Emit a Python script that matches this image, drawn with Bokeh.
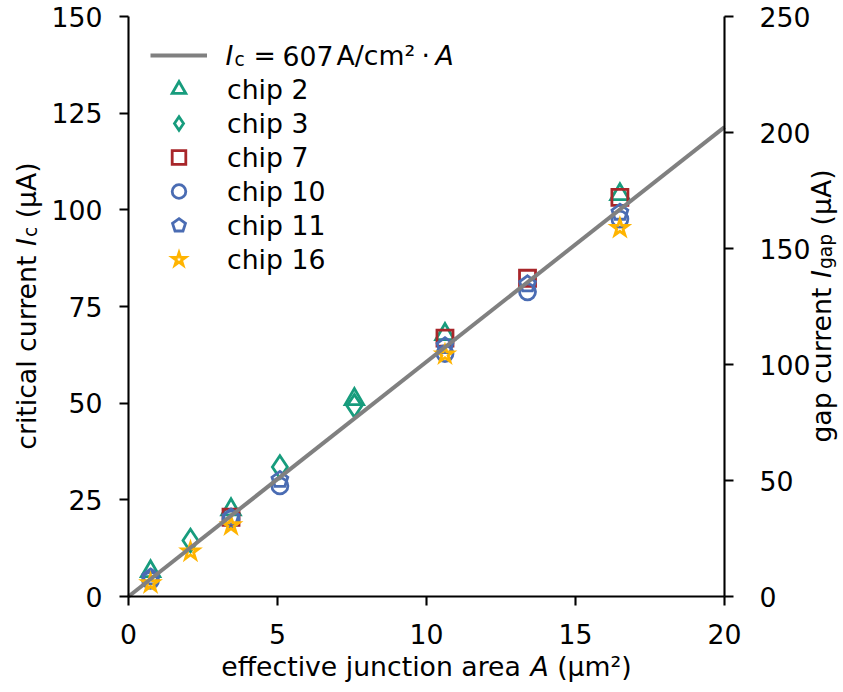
import math
from bokeh.plotting import figure
from bokeh.models import (Range1d, LinearAxis, FixedTicker, Legend, LegendItem,
                          Label, ColumnDataSource)
from bokeh.embed import file_html
from bokeh.resources import INLINE

# ---------------- data ----------------
X_TICKS = [0, 5, 10, 15, 20]
Y_TICKS = [0, 25, 50, 75, 100, 125, 150]
GAP_TICKS = [0, 50, 100, 150, 200, 250]
X_RANGE = (0, 20)
Y_RANGE = (0, 150)
GAP_RANGE = (0, 250)

FIT_SLOPE = 607            # A/cm^2
FIT_A = [0, 20]            # µm^2
FIT_IC = [FIT_SLOPE * a * 1e-2 for a in FIT_A]   # µA  (A/cm^2 * µm^2 = 1e-2 µA)

CHIP2_A = [0.74, 3.44, 7.58, 10.62, 16.49]
CHIP2_IC = [6.5, 22.5, 51.0, 67.8, 104.0]
CHIP3_A = [2.08, 5.08, 7.58]
CHIP3_IC = [14.5, 33.5, 49.3]
CHIP7_A = [3.44, 10.62, 13.39, 16.49]
CHIP7_IC = [20.5, 66.8, 82.3, 103.2]
CHIP10_A = [0.74, 3.44, 5.08, 10.62, 13.39, 16.49]
CHIP10_IC = [4.2, 20.0, 28.6, 62.8, 78.8, 97.6]
CHIP11_A = [0.74, 3.44, 5.08, 10.62, 13.39, 16.49]
CHIP11_IC = [5.0, 20.5, 30.2, 64.8, 80.8, 99.3]
CHIP16_A = [0.74, 2.08, 3.44, 10.62, 16.49]
CHIP16_IC = [3.4, 11.6, 18.4, 62.6, 95.3]

CHIP_LABELS = ["chip 2", "chip 3", "chip 7", "chip 10", "chip 11", "chip 16"]

# ---------------- style / layout ----------------
FONT = "DejaVu Sans"
S = 26.7
TEAL = "#179C7D"
RED = "#A8262A"
BLUE = "#4A6CB3"
YELLOW = "#FFB400"
GRAY = "#808080"
MLW = 2.8

W, H = 843, 692
# plotting area (pixels inside the canvas)
AX_L, AX_R, AX_T, AX_B = 128, 724, 16, 596
PPX = (AX_R - AX_L) / (X_RANGE[1] - X_RANGE[0])
PPY = (AX_B - AX_T) / (Y_RANGE[1] - Y_RANGE[0])

xr = Range1d(X_RANGE[0] - AX_L / PPX, X_RANGE[1] + (W - AX_R) / PPX)
yr = Range1d(Y_RANGE[0] - (H - AX_B) / PPY, Y_RANGE[1] + AX_T / PPY)
GF = (GAP_RANGE[1] - GAP_RANGE[0]) / (Y_RANGE[1] - Y_RANGE[0])

p = figure(width=W, height=H, output_backend="svg", toolbar_location=None,
           x_range=xr, y_range=yr, x_axis_type=None, y_axis_type=None,
           min_border=0)
p.outline_line_color = None
p.background_fill_color = "white"
p.border_fill_color = "white"
p.extra_y_ranges = {"gap": Range1d(yr.start * GF, yr.end * GF)}

xaxis = LinearAxis(ticker=FixedTicker(ticks=X_TICKS), fixed_location=Y_RANGE[0],
                   bounds=X_RANGE)
yaxis = LinearAxis(ticker=FixedTicker(ticks=Y_TICKS), fixed_location=X_RANGE[0],
                   bounds=Y_RANGE)
gaxis = LinearAxis(ticker=FixedTicker(ticks=GAP_TICKS), y_range_name="gap",
                   fixed_location=X_RANGE[1], bounds=GAP_RANGE)
p.add_layout(xaxis, "below")
p.add_layout(yaxis, "left")
p.add_layout(gaxis, "right")

for ax in (xaxis, yaxis, gaxis):
    ax.axis_line_width = 2.1
    ax.axis_line_color = "black"
    ax.major_tick_line_width = 2.1
    ax.major_tick_line_color = "black"
    ax.major_tick_out = 9
    ax.major_tick_in = 0
    ax.minor_tick_out = 0
    ax.minor_tick_in = 0
    ax.major_label_standoff = 17
    ax.major_label_text_font = FONT
    ax.major_label_text_font_size = f"{S}px"
    ax.major_label_text_color = "black"
xaxis.major_label_standoff = 18
gaxis.major_label_standoff = 26

def sc(xs, ys, marker, size, color):
    src = ColumnDataSource(dict(A=xs, Ic=ys))
    return p.scatter("A", "Ic", source=src, marker=marker, size=size,
                     fill_color=None, line_color=color, line_width=MLW,
                     line_join="miter")

r2 = sc(CHIP2_A, CHIP2_IC, "triangle", 18.5, TEAL)
r3 = sc(CHIP3_A, CHIP3_IC, "diamond", 22.5, TEAL)
r7 = sc(CHIP7_A, CHIP7_IC, "square", 16, RED)
r10 = sc(CHIP10_A, CHIP10_IC, "circle", 16, BLUE)
src11 = ColumnDataSource(dict(A=CHIP11_A, Ic=CHIP11_IC))
try:
    r11 = p.ngon("A", "Ic", source=src11, radius=8.3, radius_units="screen", n=5,
                 fill_color=None, line_color=BLUE, line_width=MLW, line_join="miter")
except Exception:
    r11 = p.scatter("A", "Ic", source=src11, marker="hex", size=16,
                    fill_color=None, line_color=BLUE, line_width=MLW)
r16 = sc(CHIP16_A, CHIP16_IC, "star", 17, YELLOW)

fit_src = ColumnDataSource(dict(A=FIT_A, Ic=FIT_IC))
rl = p.line("A", "Ic", source=fit_src, line_color=GRAY, line_width=4)

ROW = 34
N_ROWS = 1 + len(CHIP_LABELS)
LEG_X, LEG_TOP = 150, 38
legend = Legend(items=[LegendItem(label=" ", renderers=[rl])] +
                [LegendItem(label=lab, renderers=[r]) for lab, r in
                 zip(CHIP_LABELS, [r2, r3, r7, r10, r11, r16])],
                location=(LEG_X, H - LEG_TOP - ROW * N_ROWS),
                margin=0, padding=0, spacing=0,
                glyph_width=57, glyph_height=ROW, label_height=ROW,
                label_standoff=20, border_line_color=None,
                background_fill_alpha=0,
                label_text_font=FONT, label_text_font_size=f"{S}px",
                label_text_color="black")
p.add_layout(legend)

# ---------------- rich-text labels ----------------
EM = {" ": .318, "(": .390, ")": .390, "µ": .635, "A": .684, "I": .295,
      "a": .613, "c": .550, "e": .615, "f": .352, "g": .635, "h": .634,
      "i": .278, "j": .278, "l": .278, "m": .974, "n": .634, "o": .612,
      "p": .635, "r": .411, "t": .392, "u": .634, "v": .592, "²": .401}

def tw(s, size=S):
    return sum(EM[ch] for ch in s) * size

def piece(text, dx, dy, size=S, italic=False, angle=0.0):
    # dx, dy in pixels from the (0, 0) data corner; dy positive upward
    p.add_layout(Label(x=X_RANGE[0], y=Y_RANGE[0], x_offset=dx, y_offset=dy,
                       text=text, angle=angle, text_font=FONT,
                       text_font_size=f"{size:.1f}px",
                       text_font_style="italic" if italic else "normal",
                       text_color="black", text_align="left",
                       text_baseline="alphabetic"))

SUB = 0.7 * S
SP = tw(" ")
FW = AX_R - AX_L
FH = AX_B - AX_T

# x axis label
xl = ["effective junction area", "A", "(µm²)"]
total = tw(xl[0]) + SP + tw(xl[1]) + SP + tw(xl[2])
x0 = FW / 2 - total / 2
yb = -(666 - AX_B)
piece(xl[0], x0, yb)
piece(xl[1], x0 + tw(xl[0]) + SP, yb, italic=True)
piece(xl[2], x0 + tw(xl[0]) + SP + tw(xl[1]) + SP, yb)

def vlabel(pre, sub, bx):
    post = "(µA)"
    total = tw(pre) + SP + tw("I") + tw(sub, SUB) + SP + tw(post)
    a = FH / 2 - total / 2
    ang = math.pi / 2
    piece(pre, bx, a, angle=ang)
    a += tw(pre) + SP
    piece("I", bx, a, italic=True, angle=ang)
    a += tw("I") + 1
    piece(sub, bx + 4, a, size=SUB, angle=ang)
    a += tw(sub, SUB) + SP
    piece(post, bx, a, angle=ang)

vlabel("critical current", "c", 26 - AX_L)
vlabel("gap current", "gap", 821 - AX_L)

# legend entry text for the fit line
ly = AX_B - 55
piece("I", 97, ly, italic=True)
piece("c", 106, ly - 4, size=SUB)
piece("=", 125, ly)
piece("607", 154, ly)
piece("A/cm²", 208, ly)
piece("·", 293, ly)
piece("A", 307, ly, italic=True)

open("out.html", "w").write(file_html(p, INLINE))
